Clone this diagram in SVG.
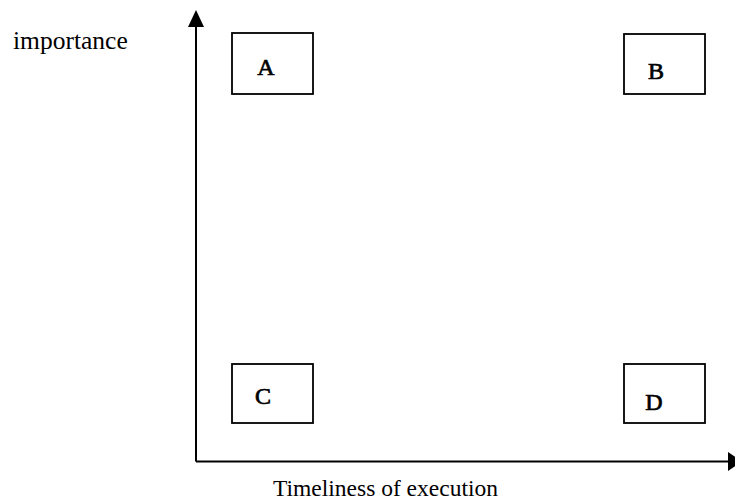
<svg xmlns="http://www.w3.org/2000/svg" width="735" height="502" viewBox="0 0 735 502">
<style>
.box{fill:#fff;stroke:#000;stroke-width:1.8}
.lbl{font-family:"Liberation Serif",serif;font-size:24px;fill:#000;stroke:#000;stroke-width:0.7}
.axis{stroke:#000;stroke-width:2;fill:none}
.txt{font-family:"Liberation Serif",serif;fill:#000}
</style>
<rect width="735" height="502" fill="#fff"/>
<g id="connectors">
<path class="axis" d="M196,461.5 L196,14"/>
<polygon points="196,10 188,27 204,27" fill="#000"/>
<path class="axis" d="M196,461.5 L730,461.5"/>
<polygon points="742,461.5 728,452 728,471" fill="#000"/>
</g>
<g id="A"><rect class="box" x="232" y="33" width="81" height="61"/><text class="lbl" x="266" y="75" text-anchor="middle">A</text></g>
<g id="B"><rect class="box" x="624" y="34" width="81" height="60"/><text class="lbl" x="656" y="79" text-anchor="middle">B</text></g>
<g id="C"><rect class="box" x="232" y="364" width="81" height="59"/><text class="lbl" x="263" y="404" text-anchor="middle">C</text></g>
<g id="D"><rect class="box" x="624" y="364" width="81" height="59"/><text class="lbl" x="654" y="410" text-anchor="middle">D</text></g>
<text class="txt" x="13" y="49" font-size="25.5">importance</text>
<text class="txt" x="273" y="496" font-size="23.5">Timeliness of execution</text>
</svg>
